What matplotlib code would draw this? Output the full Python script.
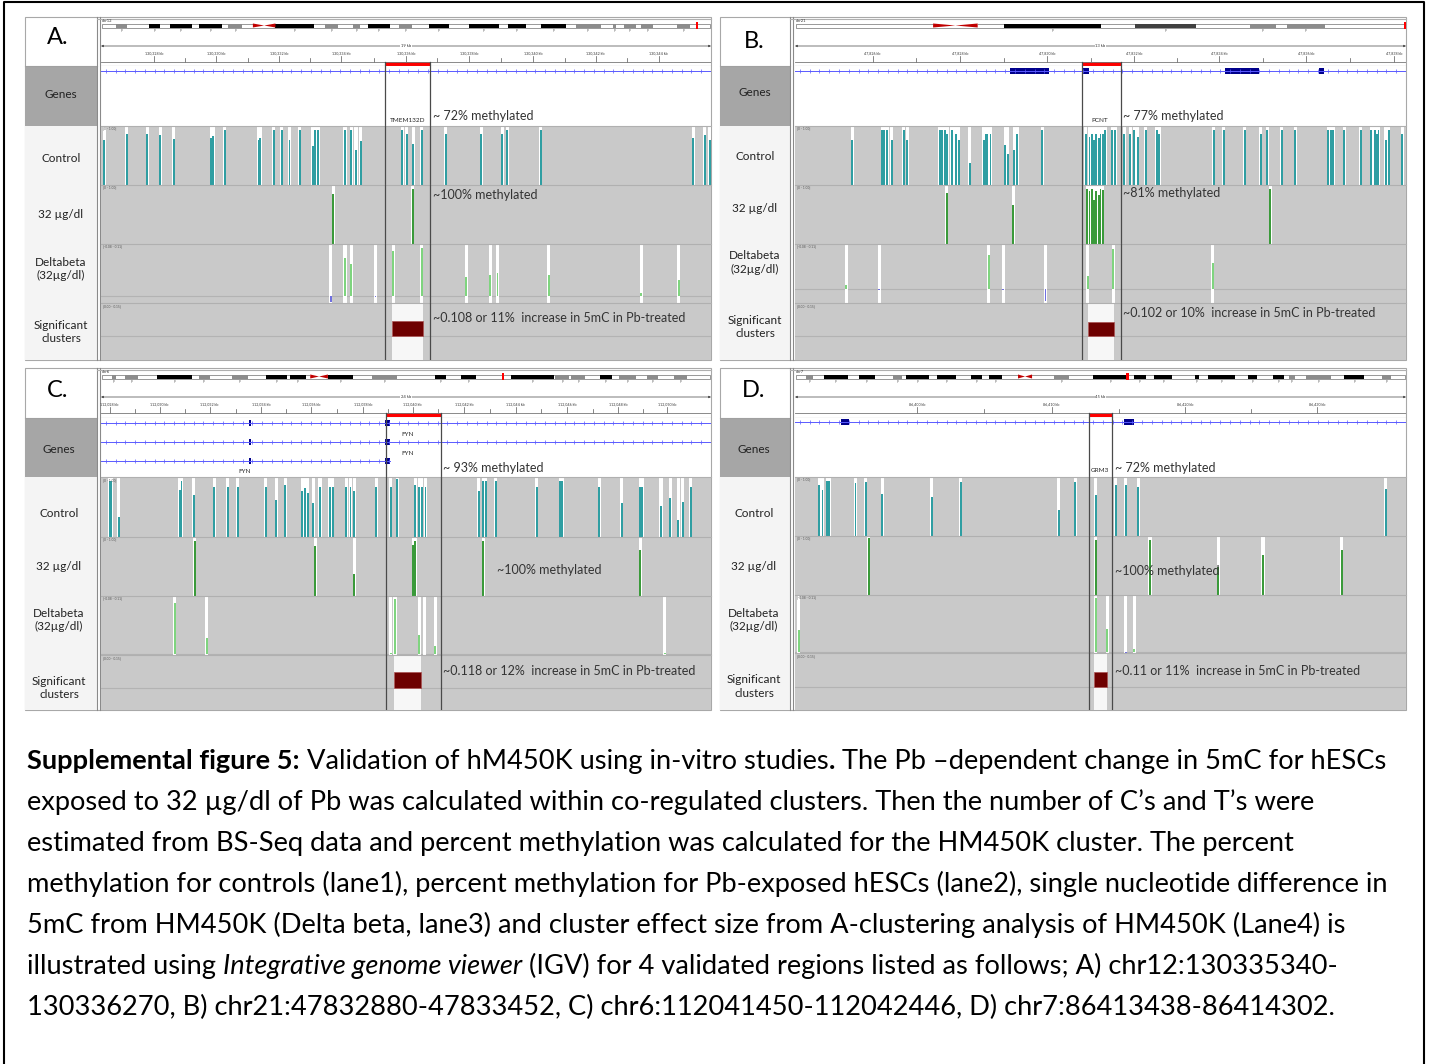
import numpy as np
import matplotlib
matplotlib.use("Agg")
import matplotlib.pyplot as plt
from matplotlib.patches import Rectangle, Polygon

plt.rcParams["font.family"] = ["Lato", "DejaVu Sans"]

# ============================ DATA ============================
# all genomic positions are given as % of the IGV window width
panel_letters = ["A.", "B.", "C.", "D."]
chromosomes = ["chr12", "chr21", "chr6", "chr7"]
window_labels = ["19 kb", "13 kb", "24 kb", "45 kb"]

# ideogram bands (start %, end %, stain)
bandA_start = [2.5, 7.8, 11.3, 16.0, 20.9, 28.6, 36.8, 41.3, 43.7, 48.9, 53.7, 60.3, 66.8, 72.2, 77.8, 83.9, 85.7, 88.6, 94.4]
bandA_end = [4.2, 9.7, 14.9, 19.8, 23.1, 34.9, 38.8, 42.5, 47.4, 51.0, 57.0, 65.2, 69.6, 76.2, 81.9, 84.4, 87.7, 90.5, 96.5]
bandA_stain = ["g", "k", "k", "k", "g", "k", "g", "g", "k", "g", "k", "k", "k", "k", "g", "g", "g", "g", "g"]
bandB_start = [34.2, 55.7, 74.4, 80.6]
bandB_end = [50.0, 65.6, 78.8, 86.7]
bandB_stain = ["k", "d", "g", "g"]
bandC_start = [1.8, 3.9, 9.1, 16.0, 21.5, 27.0, 31.0, 37.2, 44.5, 54.7, 59.0, 67.2, 74.5, 77.1, 81.8, 84.9, 89.5, 93.9]
bandC_end = [2.5, 6.1, 14.9, 17.8, 24.1, 30.5, 33.6, 41.3, 48.6, 56.6, 61.4, 74.2, 76.7, 79.4, 83.7, 87.7, 91.3, 96.1]
bandC_stain = ["g", "g", "k", "g", "g", "k", "k", "k", "g", "k", "k", "k", "g", "g", "k", "g", "g", "g"]
bandD_start = [1.8, 4.7, 10.5, 16.0, 18.2, 23.3, 28.8, 31.8, 42.4, 48.8, 55.5, 58.8, 65.4, 67.6, 74.2, 78.2, 80.8, 83.6, 89.9, 96.1]
bandD_end = [2.9, 8.7, 13.1, 17.5, 21.9, 26.3, 30.6, 33.9, 44.9, 54.4, 57.4, 61.7, 66.1, 72.0, 75.6, 80.0, 81.9, 87.7, 93.2, 97.6]
bandD_stain = ["g", "k", "k", "g", "k", "k", "k", "k", "g", "k", "k", "k", "k", "k", "k", "k", "g", "g", "k", "g"]
centromere = [(24.9, 28.6), (22.6, 29.9), (34.3, 37.2), (36.5, 38.8)]
ideo_marker = [97.7, 99.8, 65.9, 54.4]

# ruler labels
rulerA_pos = [8.7, 18.9, 29.2, 39.4, 50.0, 60.3, 70.9, 81.1, 91.4]
rulerA_lab = ["130,328 kb", "130,330 kb", "130,332 kb", "130,334 kb", "130,336 kb", "130,338 kb", "130,340 kb", "130,342 kb", "130,344 kb"]
rulerB_pos = [12.7, 27.0, 41.3, 55.5, 69.4, 83.7, 98.0]
rulerB_lab = ["47,826 kb", "47,828 kb", "47,830 kb", "47,832 kb", "47,834 kb", "47,836 kb", "47,838 kb"]
rulerC_pos = [1.4, 9.6, 17.8, 26.3, 34.5, 42.9, 51.1, 59.5, 68.0, 76.4, 84.8, 92.8]
rulerC_lab = ["112,028 kb", "112,030 kb", "112,032 kb", "112,034 kb", "112,036 kb", "112,038 kb", "112,040 kb", "112,042 kb", "112,044 kb", "112,046 kb", "112,048 kb", "112,050 kb"]
rulerD_pos = [20.0, 42.0, 63.9, 85.5]
rulerD_lab = ["86,400 kb", "86,410 kb", "86,420 kb", "86,430 kb"]

# validated (highlighted) region
highlight = [(46.5, 53.9), (46.9, 53.3), (46.7, 55.7), (48.1, 51.9)]

# genes
gene_names = ["TMEM132D", "PCNT", "FYN", "GRM3"]
transcriptsA = [(0.0, 100.0)]
exonsA = [[]]
transcriptsB = [(0.0, 100.0)]
exonsB = [[(35.2, 41.5), (47.0, 48.1), (70.4, 75.9), (85.7, 86.5)]]
transcriptsC = [(0.0, 100.0), (0.0, 100.0), (0.0, 47.3)]
exonsC = [[(24.3, 24.6), (46.6, 47.3)], [(24.3, 24.6), (46.6, 47.3)], [(24.3, 24.6), (46.6, 47.3)]]
transcriptsD = [(0.0, 100.0)]
exonsD = [[(7.6, 8.9), (53.9, 55.5)]]

# lane 1: Control, % methylation (0-1)
ctrlA_pos = [0.5, 4.2, 7.6, 9.7, 11.9, 18.1, 18.4, 20.3, 25.9, 26.1, 28.3, 29.6, 30.9, 32.6, 34.7, 35.1, 35.6, 40.0, 41.0, 41.8, 42.6, 49.4, 50.1, 51.2, 52.6, 56.5, 62.3, 65.8, 66.6, 72.1, 97.1, 99.0, 99.8]
ctrlA_val = [0.76, 0.86, 0.86, 0.84, 0.78, 0.79, 0.83, 0.94, 0.76, 0.79, 0.94, 0.94, 0.76, 0.94, 0.66, 0.94, 0.94, 0.93, 0.94, 0.60, 0.75, 0.94, 0.87, 0.69, 0.93, 0.86, 0.87, 0.86, 0.94, 0.94, 0.79, 0.84, 0.76]
ctrlB_pos = [9.4, 14.3, 14.6, 15.1, 15.8, 17.8, 18.4, 23.7, 24.1, 24.6, 24.9, 25.7, 26.3, 26.8, 28.6, 30.9, 31.2, 31.5, 32.0, 34.4, 34.8, 35.9, 36.4, 40.5, 47.6, 48.2, 48.6, 48.9, 49.3, 49.7, 50.0, 50.4, 50.8, 51.9, 52.4, 53.9, 54.9, 55.5, 56.1, 57.4, 59.2, 59.6, 68.5, 70.2, 73.6, 76.2, 77.3, 79.7, 81.9, 87.3, 87.7, 88.1, 89.9, 92.6, 94.3, 94.9, 95.2, 95.5, 96.7, 97.2, 99.4]
ctrlB_val = [0.76, 0.94, 0.94, 0.94, 0.76, 0.94, 0.76, 0.94, 0.94, 0.94, 0.87, 0.94, 0.87, 0.76, 0.37, 0.76, 0.87, 0.87, 0.87, 0.67, 0.53, 0.59, 0.87, 0.94, 0.87, 0.81, 0.87, 0.76, 0.87, 0.79, 0.87, 0.87, 0.94, 0.94, 0.94, 0.87, 0.87, 0.94, 0.81, 0.94, 0.94, 0.87, 0.94, 0.94, 0.94, 0.87, 0.94, 0.94, 0.94, 0.94, 0.94, 0.94, 0.94, 0.94, 0.94, 0.94, 0.87, 0.94, 0.76, 0.94, 0.87]
ctrlC_pos = [1.4, 1.7, 2.9, 12.9, 13.2, 15.2, 18.6, 20.8, 22.4, 27.0, 28.7, 30.2, 33.0, 33.4, 33.9, 34.8, 35.9, 37.5, 38.0, 40.2, 40.9, 41.5, 45.1, 47.5, 48.6, 51.5, 52.2, 52.6, 53.2, 61.9, 62.7, 63.1, 64.7, 71.4, 75.3, 75.6, 81.7, 85.4, 88.4, 88.7, 91.8, 93.3, 94.6, 95.4, 96.7]
ctrlC_val = [0.93, 0.93, 0.34, 0.79, 0.93, 0.70, 0.84, 0.84, 0.84, 0.84, 0.62, 0.87, 0.76, 0.81, 0.73, 0.56, 0.84, 0.84, 0.84, 0.84, 0.84, 0.76, 0.84, 0.84, 0.96, 0.87, 0.84, 0.84, 0.84, 0.76, 0.93, 0.93, 0.93, 0.84, 0.93, 0.93, 0.84, 0.56, 0.84, 0.84, 0.51, 0.65, 0.28, 0.59, 0.84]
ctrlD_pos = [4.0, 4.5, 5.3, 5.6, 9.9, 11.6, 14.3, 22.4, 27.1, 43.2, 45.9, 49.2, 52.5, 54.1, 56.2, 96.7]
ctrlD_val = [0.86, 0.78, 0.94, 0.94, 0.89, 0.92, 0.72, 0.66, 0.92, 0.44, 0.92, 0.69, 0.86, 0.86, 0.83, 0.80]

# lane 2: 32 ug/dl Pb, % methylation (0-1)
pbA_pos = [38.1, 51.1]
pbA_val = [0.85, 0.93]
pbB_pos = [24.8, 35.7, 47.8, 48.2, 48.6, 48.9, 49.3, 49.7, 50.0, 50.4, 77.8]
pbB_val = [0.86, 0.66, 0.94, 0.90, 0.94, 0.75, 0.89, 0.83, 0.94, 0.92, 0.93]
pbC_pos = [15.4, 35.1, 41.5, 51.2, 51.5, 62.7, 88.4]
pbC_val = [0.94, 0.84, 0.38, 0.86, 0.93, 0.93, 0.78]
pbD_pos = [12.1, 49.2, 58.1, 69.3, 76.6, 89.5]
pbD_val = [0.96, 0.94, 0.93, 0.48, 0.68, 0.76]

# lane 3: delta beta (relative to the track scale)
dbA_pos = [37.7, 40.0, 41.0, 45.0, 47.9, 52.6, 59.9, 63.8, 65.0, 73.4, 88.6, 94.7]
dbA_val = [-0.11, 0.74, 0.62, -0.02, 0.87, 0.93, 0.36, 0.40, 0.45, 0.40, 0.05, 0.31]
dbB_pos = [8.4, 13.8, 31.7, 34.1, 41.0, 47.9, 52.1, 68.4]
dbB_val = [0.10, -0.03, 0.76, -0.02, -0.27, 0.28, 0.90, 0.57]
dbC_pos = [12.1, 17.3, 47.5, 48.2, 52.2, 53.0, 54.8, 92.4]
dbC_val = [0.88, 0.27, 0.02, 0.94, 0.33, 0.0, 0.14, 0.02]
dbD_pos = [0.6, 49.2, 51.1, 54.1, 55.5]
dbD_val = [0.38, 0.94, 0.41, -0.01, 0.05]

# lane 4: significant cluster (start %, end %) and effect size
clusters = [(47.7, 52.8), (47.9, 52.2), (48.1, 52.4), (49.0, 51.1)]
cluster_effect = [0.108, 0.102, 0.118, 0.11]

ann_ctrl = ["~ 72% methylated", "~ 77% methylated", "~ 93% methylated", "~ 72% methylated"]
ann_pb = ["~100% methylated", "~81% methylated", "~100% methylated", "~100% methylated"]
ann_sig = ["~0.108 or 11%  increase in 5mC in Pb-treated", "~0.102 or 10%  increase in 5mC in Pb-treated",
           "~0.118 or 12%  increase in 5mC in Pb-treated", "~0.11 or 11%  increase in 5mC in Pb-treated"]
track_labels = ["Genes", "Control", "32 µg/dl", "Deltabeta\n(32µg/dl)", "Significant\nclusters"]

caption_lines = [
    [("Supplemental figure 5:", "bold", "normal"), (" Validation of hM450K using in-vitro studies", "normal", "normal"),
     (".", "bold", "normal"), (" The Pb \u2013dependent change in 5mC for hESCs", "normal", "normal")],
    [("exposed to 32 \u00b5g/dl of Pb was calculated within co-regulated clusters. Then the number of C\u2019s and T\u2019s were", "normal", "normal")],
    [("estimated from BS-Seq data and percent methylation was calculated for the HM450K cluster. The percent", "normal", "normal")],
    [("methylation for controls (lane1), percent methylation for Pb-exposed hESCs (lane2), single nucleotide difference in", "normal", "normal")],
    [("5mC from HM450K (Delta beta, lane3) and cluster effect size from A-clustering analysis of HM450K (Lane4) is", "normal", "normal")],
    [("illustrated using ", "normal", "normal"), ("Integrative genome viewer", "normal", "italic"),
     (" (IGV) for 4 validated regions listed as follows; A) chr12:130335340-", "normal", "normal")],
    [("130336270, B) chr21:47832880-47833452, C) chr6:112041450-112042446, D) chr7:86413438-86414302.", "normal", "normal")],
]

# ============================ LAYOUT ============================
W, H = 1429, 1064
geo = [
    dict(x0=25, lab_r=97, trk_l=101, trk_r=711, top=17, genes=(66, 126), ctrl=(126, 185), pb=(185, 244),
         delta=(244, 303), sig=(303, 360), dzero=296, sbase=336, stop=321,
         letter=(58, 38), lab_x=61, lab_y=[94, 159, 214, 269, 332],
         ann=[(433, 116), (433, 195), (433, 318)], gene_y=[5], gname=[(50.2, 55)]),
    dict(x0=720, lab_r=790, trk_l=795, trk_r=1406, top=17, genes=(66, 126), ctrl=(126, 185), pb=(185, 244),
         delta=(244, 303), sig=(303, 360), dzero=289, sbase=336, stop=322,
         letter=(754, 41), lab_x=755, lab_y=[92, 156, 209, 262.5, 327],
         ann=[(1123, 116), (1123, 193), (1123, 313)], gene_y=[5], gname=[(49.9, 55)]),
    dict(x0=25, lab_r=97, trk_l=101, trk_r=711, top=368, genes=(418, 477), ctrl=(477, 537), pb=(537, 596),
         delta=(596, 655), sig=(655, 710), dzero=654, sbase=688, stop=672,
         letter=(58, 390), lab_x=59, lab_y=[449, 513, 566, 620, 688],
         ann=[(443, 468), (497, 570), (443, 671)], gene_y=[5, 24, 43], gname=[(50.2, 17), (50.2, 36), (23.6, 54)]),
    dict(x0=720, lab_r=790, trk_l=795, trk_r=1406, top=368, genes=(418, 477), ctrl=(477, 536), pb=(536, 595),
         delta=(595, 653), sig=(653, 710), dzero=652, sbase=687, stop=672,
         letter=(754, 390), lab_x=754, lab_y=[450, 513, 566, 620, 686.5],
         ann=[(1115, 468), (1115, 571), (1115, 671)], gene_y=[4], gname=[(49.9, 53)]),
]

bands = [(bandA_start, bandA_end, bandA_stain), (bandB_start, bandB_end, bandB_stain),
         (bandC_start, bandC_end, bandC_stain), (bandD_start, bandD_end, bandD_stain)]
rulers = [(rulerA_pos, rulerA_lab), (rulerB_pos, rulerB_lab), (rulerC_pos, rulerC_lab), (rulerD_pos, rulerD_lab)]
genes = [(transcriptsA, exonsA), (transcriptsB, exonsB), (transcriptsC, exonsC), (transcriptsD, exonsD)]
ctrl = [(ctrlA_pos, ctrlA_val), (ctrlB_pos, ctrlB_val), (ctrlC_pos, ctrlC_val), (ctrlD_pos, ctrlD_val)]
pb = [(pbA_pos, pbA_val), (pbB_pos, pbB_val), (pbC_pos, pbC_val), (pbD_pos, pbD_val)]
db = [(dbA_pos, dbA_val), (dbB_pos, dbB_val), (dbC_pos, dbC_val), (dbD_pos, dbD_val)]

STAIN = {"k": "#000000", "d": "#404040", "g": "#8c8c8c"}
TRACK_BG = "#c9c9c9"
TEAL = "#2f9ea2"
GREEN = "#3a9a3a"
LIGHTGREEN = "#7fd47f"
NEGBLUE = "#7070e0"
HL = "#4a4a4a"

fig = plt.figure(figsize=(W / 100, H / 100), dpi=100)
fig.patch.set_facecolor("white")
bg = fig.add_axes([0, 0, 1, 1], zorder=-10)
bg.set_xlim(0, W)
bg.set_ylim(H, 0)
bg.axis("off")


def px_axes(x0, y0, x1, y1, z=1):
    return fig.add_axes([x0 / W, 1 - y1 / H, (x1 - x0) / W, (y1 - y0) / H], zorder=z)


def ftext(x, y, s, **kw):
    return fig.text(x / W, 1 - y / H, s, **kw)


def track_axes(g, rng):
    ax = px_axes(g["trk_l"], rng[0], g["trk_r"], rng[1])
    ax.set_xlim(0, 100)
    ax.set_facecolor(TRACK_BG)
    ax.set_xticks([])
    ax.set_yticks([])
    for k, s in ax.spines.items():
        s.set_visible(k == "top")
    ax.spines["top"].set_color("#b0b0b0")
    ax.spines["top"].set_linewidth(0.8)
    return ax


# outer border
bg.plot([4.5, 4.5, 1424.5, 1424.5], [H + 5, 1.5, 1.5, H + 5], color="black", lw=1.5)

for i, g in enumerate(geo):
    x0, xl, tl, tr, top = g["x0"], g["lab_r"], g["trk_l"], g["trk_r"], g["top"]
    bot = g["sig"][1]
    g0, g1 = g["genes"]
    h0, h1 = highlight[i]
    # frame and label column
    bg.add_patch(Rectangle((x0, top), tr - x0, bot - top, facecolor="white", edgecolor="#a8a8a8", lw=0.8))
    bg.add_patch(Rectangle((x0 + 0.5, g1), xl - x0 - 0.5, bot - g1, facecolor="#f4f4f4", lw=0))
    bg.add_patch(Rectangle((x0 + 0.5, g0), xl - x0 - 0.5, g1 - g0, facecolor="#a6a6a6", lw=0))
    bg.plot([x0, xl], [g0, g0], color="#a0a0a0", lw=0.8)
    bg.plot([xl, xl], [top, bot], color="#8a8a8a", lw=0.8)
    bg.plot([xl + 3, xl + 3], [top, bot], color="#8a8a8a", lw=0.8)
    bg.plot([xl, tr], [top + 1.5, top + 1.5], color="#b0b0b0", lw=0.8)

    ftext(*g["letter"], panel_letters[i], fontsize=17, ha="center", va="center")
    for lab, ly in zip(track_labels, g["lab_y"]):
        ftext(g["lab_x"], ly, lab, fontsize=8.5, ha="center", va="center", linespacing=1.3, color="#222222")

    # ---------- header: ideogram + ruler ----------
    hh = g0 - top
    hd = px_axes(tl, top, tr, g0)
    hd.set_xlim(0, 100)
    hd.set_ylim(hh, 0)
    hd.axis("off")
    hd.text(0.2, 3.8, chromosomes[i], fontsize=3, va="center", color="#333333")
    hd.add_patch(Rectangle((0.2, 6.5), 99.6, 4.0, facecolor="white", edgecolor="#707070", lw=0.5))
    bs, be, bst = bands[i]
    for s, e, st in zip(bs, be, bst):
        hd.add_patch(Rectangle((s, 6.5), e - s, 4.0, facecolor=STAIN[st], lw=0))
        hd.text((s + e) / 2, 12.8, "", fontsize=2)
    c0, c1 = centromere[i]
    cm = (c0 + c1) / 2
    hd.add_patch(Rectangle((c0, 6.5), c1 - c0, 4.0, facecolor="white", lw=0))
    hd.add_patch(Polygon([[c0, 6.5], [cm, 8.5], [c0, 10.5]], closed=True, color="#c00000", lw=0))
    hd.add_patch(Polygon([[c1, 6.5], [cm, 8.5], [c1, 10.5]], closed=True, color="#c00000", lw=0))
    mk = ideo_marker[i]
    hd.add_patch(Rectangle((mk - 0.2, 5.2), 0.4, 6.6, color="#ff0000", lw=0))
    # band label smudges
    for s, e in zip(bs, be):
        hd.text((s + e) / 2, 13.2, "p", fontsize=2.2, ha="center", va="center", color="#555555")
    # window extent
    hd.annotate("", xy=(0, 29), xytext=(100, 29),
                arrowprops=dict(arrowstyle="<|-|>", lw=0.5, color="#444444", mutation_scale=3, shrinkA=0, shrinkB=0))
    hd.text(50, 29, window_labels[i], fontsize=3, ha="center", va="center", color="#333333",
            bbox=dict(fc="white", ec="none", pad=0.6))
    rp, rlab = rulers[i]
    for p, lab in zip(rp, rlab):
        hd.text(p, 36.3, lab, fontsize=2.6, ha="center", va="center", color="#333333")
        hd.plot([p, p], [39.5, 44.7], color="#555555", lw=0.5)
    for a, b in zip(rp[:-1], rp[1:]):
        m = (a + b) / 2
        hd.plot([m, m], [41.5, 44.7], color="#555555", lw=0.5)
    hd.axhline(44.7, color="#777777", lw=0.6)
    hd.axhline(hh - 0.4, color="#777777", lw=0.8)
    hd.add_patch(Rectangle((h0, 45.4), h1 - h0, 3.4, color="#ff0000", lw=0))
    for hx in (h0, h1):
        hd.plot([hx, hx], [44.7, hh], color=HL, lw=0.9)

    # ---------- genes ----------
    ga = px_axes(tl, g0, tr, g1)
    ga.set_xlim(0, 100)
    ga.set_ylim(g1 - g0, 0)
    ga.axis("off")
    trs, exs = genes[i]
    for (ts, te), ex, gy in zip(trs, exs, g["gene_y"]):
        ga.plot([ts, te], [gy, gy], color="#5a5aff", lw=0.7)
        ticks = np.arange(ts + 0.8, te, 1.6)
        ga.plot(ticks, np.full(len(ticks), gy), ls="none", marker="|", ms=2.2, mew=0.5, color="#5a5aff")
        for es, ee in ex:
            ga.add_patch(Rectangle((es, gy - 2.8), ee - es, 5.6, facecolor="#00008b", lw=0))
    for gx, gy in g["gname"]:
        ga.text(gx, gy, gene_names[i], fontsize=4.6, ha="center", va="center", color="#222222")
    for hx in (h0, h1):
        ga.axvline(hx, color=HL, lw=0.9)

    # ---------- lane 1: control ----------
    ax = track_axes(g, g["ctrl"])
    ax.set_ylim(0, 1)
    p, v = ctrl[i]
    ax.bar(p, 1.0, width=0.5, color="white", lw=0)
    ax.bar(p, v, width=0.32, color=TEAL, lw=0)
    ax.text(0.3, 0.985, "[0 - 1.00]", fontsize=2.3, va="top", color="#555555")
    for hx in (h0, h1):
        ax.axvline(hx, color=HL, lw=0.9, zorder=5)

    # ---------- lane 2: Pb-exposed ----------
    ax = track_axes(g, g["pb"])
    ax.set_ylim(0, 1)
    p, v = pb[i]
    ax.bar(p, 1.0, width=0.5, color="white", lw=0)
    ax.bar(p, v, width=0.32, color=GREEN, lw=0)
    ax.text(0.3, 0.985, "[0 - 1.00]", fontsize=2.3, va="top", color="#555555")
    for hx in (h0, h1):
        ax.axvline(hx, color=HL, lw=0.9, zorder=5)

    # ---------- lane 3: delta beta ----------
    y0, y1 = g["delta"]
    lo = -(y1 - g["dzero"]) / (g["dzero"] - y0)
    ax = track_axes(g, g["delta"])
    ax.set_ylim(lo, 1)
    ax.axhline(0, color="#b3b3b3", lw=0.8, zorder=0.5)
    p, v = db[i]
    ax.bar(p, 1.0 - lo, bottom=lo, width=0.5, color="white", lw=0, zorder=1)
    v = np.asarray(v)
    cols = np.where(v >= 0, LIGHTGREEN, NEGBLUE)
    ax.bar(p, v, width=0.32, color=cols, lw=0, zorder=2)
    ax.text(0.3, 0.985, "[-0.08 - 0.11]", fontsize=2.3, va="top", color="#555555")
    for hx in (h0, h1):
        ax.axvline(hx, color=HL, lw=0.9, zorder=5)

    # ---------- lane 4: significant clusters ----------
    y0, y1 = g["sig"]
    eff = cluster_effect[i]
    hb = g["sbase"] - g["stop"]
    ax = track_axes(g, g["sig"])
    ax.set_ylim(-(y1 - g["sbase"]) / hb * eff, (g["sbase"] - y0) / hb * eff)
    ax.axhline(0, color="#b3b3b3", lw=0.8, zorder=0.5)
    cs, ce = clusters[i]
    ax.axvspan(cs, ce, color="#f7f7f7", lw=0, zorder=1)
    ax.bar((cs + ce) / 2, eff, width=ce - cs, color="#6e0000", edgecolor="#a85050", lw=0.5, zorder=2)
    ax.text(0.3, ax.get_ylim()[1] * 0.97, "[0.00 - 0.15]", fontsize=2.3, va="top", color="#555555")
    for hx in (h0, h1):
        ax.axvline(hx, color=HL, lw=0.9, zorder=5)

    # annotations
    for (axx, axy), s in zip(g["ann"], [ann_ctrl[i], ann_pb[i], ann_sig[i]]):
        ftext(axx, axy, s, fontsize=9, ha="left", va="center", color="#333333")

# ============================ CAPTION ============================
renderer = fig.canvas.get_renderer()


def text_width(s, **kw):
    t = fig.text(0, 0, s, **kw)
    w = t.get_window_extent(renderer).width
    t.remove()
    return w


ref_line = caption_lines[3][0][0]
fs = 10 * 1363 / text_width(ref_line, fontsize=10)
baselines = [769, 810, 851, 892, 933, 974, 1015]
for segs, yb in zip(caption_lines, baselines):
    x = 27
    for s, wt, st in segs:
        ftext(x, yb, s, fontsize=fs, fontweight=wt, fontstyle=st, ha="left", va="baseline", color="black")
        x += (text_width(s + "|", fontsize=fs, fontweight=wt, fontstyle=st)
              - text_width("|", fontsize=fs, fontweight=wt, fontstyle=st))

fig.savefig("out.png", dpi=100)
